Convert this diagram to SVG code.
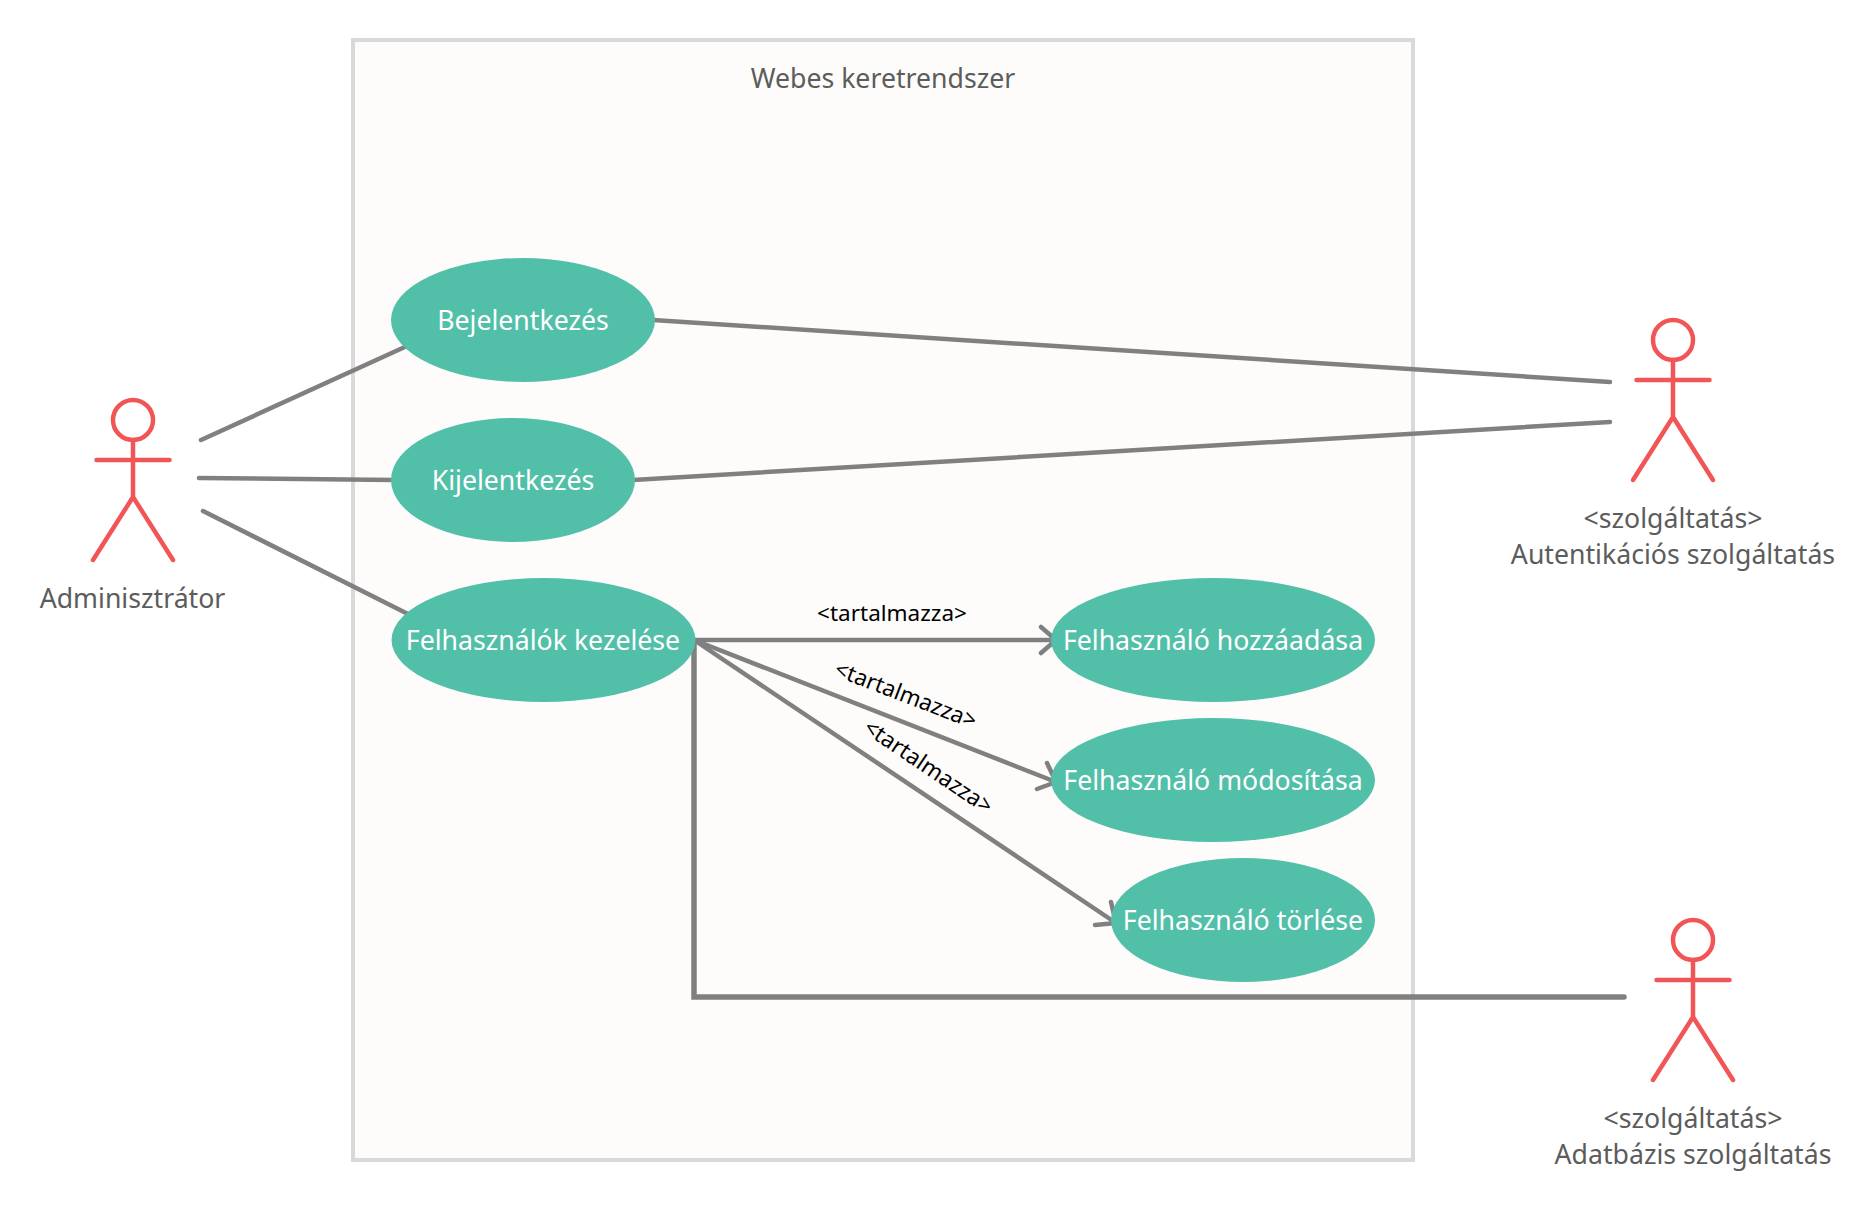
<svg xmlns="http://www.w3.org/2000/svg" width="1876" height="1213" viewBox="0 0 1876 1213">
<style>
text{font-family:"Noto Sans","Open Sans",sans-serif;text-anchor:middle}
.u{font-size:26.67px;fill:#fff}
.a{font-size:26.67px;fill:#5c5c5c}
.l{font-size:22.500px;fill:#000}
.e{fill:#52c0a9}
.c{fill:none;stroke:#808080;stroke-width:4.500;stroke-linecap:round;stroke-linejoin:miter}
.s{fill:none;stroke:#f25555;stroke-width:4.500;stroke-linecap:round;stroke-linejoin:round}
</style>
<defs>
<g id="stick"><circle cx="0" cy="0" r="20"/><path d="M0 20V77M-36.500 40H36.500M0 77L-40 140M0 77L40 140"/></g>
</defs>
<rect id="frame" x="353" y="40" width="1060" height="1120" fill="#fdfcfa" stroke="#d9d9d9" stroke-width="4"/>
<text class="a" x="883" y="88">Webes keretrendszer</text>
<g id="connectors">
<path class="c" d="M201 440L407 346"/>
<path class="c" d="M199 478L394 480"/>
<path class="c" d="M203 511L408 614"/>
<path class="c" d="M653 320L1610 382"/>
<path class="c" d="M633 480L1610 422"/>
<path class="c" d="M694 640H1056M1041 627L1056 640L1041 653"/>
<path class="c" d="M694 640L1056 782M1047 763L1056 782L1037 789"/>
<path class="c" d="M694 640L1116 923M1111 902L1116 923L1095 925"/>
<path class="c" style="stroke-width:5.500" d="M694 640V997H1624"/>
<text class="l" x="892" y="621">&lt;tartalmazza&gt;</text>
<text class="l" transform="translate(903 702) rotate(21)">&lt;tartalmazza&gt;</text>
<text class="l" transform="translate(924 773) rotate(34)">&lt;tartalmazza&gt;</text>
</g>
<g id="bejelentkezes"><ellipse class="e" cx="523" cy="320" rx="132" ry="62"/><text class="u" x="523" y="330">Bejelentkezés</text></g>
<g id="kijelentkezes"><ellipse class="e" cx="513" cy="480" rx="122" ry="62"/><text class="u" x="513" y="490">Kijelentkezés</text></g>
<g id="felhasznalok"><ellipse class="e" cx="543.500" cy="640" rx="152" ry="62"/><text class="u" x="543" y="650">Felhasználók kezelése</text></g>
<g id="hozzaadas"><ellipse class="e" cx="1213" cy="640" rx="162" ry="62"/><text class="u" x="1213" y="650">Felhasználó hozzáadása</text></g>
<g id="modositas"><ellipse class="e" cx="1213" cy="780" rx="162" ry="62"/><text class="u" x="1213" y="790">Felhasználó módosítása</text></g>
<g id="torles"><ellipse class="e" cx="1243" cy="920" rx="132" ry="62"/><text class="u" x="1243" y="930">Felhasználó törlése</text></g>
<g id="admin"><use href="#stick" class="s" x="133" y="420"/><text class="a" x="132.500" y="608">Adminisztrátor</text></g>
<g id="auth"><use href="#stick" class="s" x="1673" y="340"/><text class="a" x="1673" y="528">&lt;szolgáltatás&gt;</text><text class="a" x="1673" y="564">Autentikációs szolgáltatás</text></g>
<g id="db"><use href="#stick" class="s" x="1693" y="940"/><text class="a" x="1693" y="1128">&lt;szolgáltatás&gt;</text><text class="a" x="1693" y="1164">Adatbázis szolgáltatás</text></g>
</svg>
